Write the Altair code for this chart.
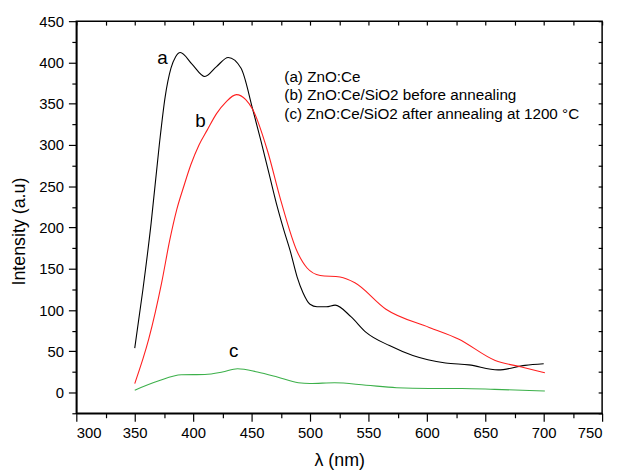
import altair as alt
import pandas as pd

# ---- data ----
wl_a = [350, 357, 364, 371, 376, 381, 385, 389, 399, 410, 420, 430, 441, 451, 458, 465, 472, 478, 483, 489, 494, 500, 506, 514, 521.5, 535, 548, 568, 588, 616, 636, 661, 684, 700]
int_a = [54, 125, 205, 300, 358, 393, 407, 412, 398, 383, 395, 406, 393, 343, 305, 265, 225, 195, 172, 140, 121, 107, 104, 104, 106, 92, 73, 57, 45, 36, 33.6, 27.6, 33, 35]

wl_b = [350, 362, 373, 380, 386, 392, 398, 405, 412, 420, 428, 437, 445, 451, 463.6, 475, 489, 497.5, 508.7, 525.7, 538.4, 565, 602, 627, 658.5, 681, 701]
int_b = [11, 65, 133, 185, 222, 250, 276, 300, 318, 338, 352, 361, 355, 343, 293, 233, 171, 151, 142, 140, 133, 101, 79, 65, 39, 31, 24]

wl_c = [350, 370, 390, 410, 425, 438, 455, 472, 490, 500, 521, 548, 574, 602, 630, 658, 701]
int_c = [3, 14, 21.6, 22, 25, 29, 25, 19, 12, 11, 12, 9, 6, 5, 5, 4, 2]

series_names = ["a", "b", "c"]
series_colors = ["#000000", "#ff1f1f", "#3cb04a"]

curve_labels = ["a", "b", "c"]
curve_label_x = [373.7, 406.2, 434.8]
curve_label_y = [405, 329, 50]

legend_lines = ["(a) ZnO:Ce", "(b) ZnO:Ce/SiO2 before annealing", "(c) ZnO:Ce/SiO2 after annealing at 1200 °C"]
legend_x = [478, 478, 478]
legend_y = [382, 360, 337]

x_major = list(range(300, 751, 50))
x_minor = list(range(325, 751, 50))
x_all = list(range(300, 751, 25))
y_major = list(range(0, 451, 50))
y_minor = list(range(-25, 451, 50))
y_all = list(range(-25, 451, 25))

# ---- tables ----
rows = []
for name, xs_, ys_ in zip(series_names, [wl_a, wl_b, wl_c], [int_a, int_b, int_c]):
    for i, (xv, yv) in enumerate(zip(xs_, ys_)):
        rows.append({"series": name, "wl": xv, "val": yv, "order": i})
df = pd.DataFrame(rows)
df_lab = pd.DataFrame({"t": curve_labels, "x": curve_label_x, "y": curve_label_y})
df_leg = pd.DataFrame({"t": legend_lines, "x": legend_x, "y": legend_y})

FONT = "Liberation Sans"
xs = alt.Scale(domain=[300, 750], nice=False, zero=False)
ys = alt.Scale(domain=[-25, 450], nice=False, zero=False)
cs = alt.Scale(domain=series_names, range=series_colors)

lines = alt.Chart(df).mark_line(interpolate="monotone", strokeWidth=1.1).encode(
    x=alt.X("wl:Q", scale=xs, axis=alt.Axis(
        orient="bottom", values=x_major, tickSize=8, tickWidth=1.2, domainWidth=1.6,
        labelFontSize=15, labelPadding=4, title="λ  (nm)", titleFontSize=18,
        titlePadding=12, format="d")),
    y=alt.Y("val:Q", scale=ys, axis=alt.Axis(
        orient="left", values=y_major, tickSize=8, tickWidth=1.2, domainWidth=1.6,
        labelFontSize=15, labelPadding=5, title="Intensity (a.u)", titleFontSize=18,
        titleX=-57, titleY=212, titleBaseline="middle", titleAngle=-90, format="d")),
    color=alt.Color("series:N", scale=cs, legend=None),
    order="order:Q",
)

minor = alt.Chart(df).mark_point(opacity=0).encode(
    x=alt.X("wl:Q", scale=xs, axis=alt.Axis(
        orient="bottom", values=x_minor, tickSize=4.5, tickWidth=1.2, domain=False,
        labels=False, title=None)),
    y=alt.Y("val:Q", scale=ys, axis=alt.Axis(
        orient="left", values=y_minor, tickSize=4.5, tickWidth=1.2, domain=False,
        labels=False, title=None)),
)

inner = alt.Chart(df).mark_point(opacity=0).encode(
    x=alt.X("wl:Q", scale=xs, axis=alt.Axis(
        orient="top", values=x_all, tickSize=4, tickWidth=1.2, domain=False,
        labels=False, title=None, offset=-4)),
    y=alt.Y("val:Q", scale=ys, axis=alt.Axis(
        orient="right", values=y_all, tickSize=4, tickWidth=1.2, domain=False,
        labels=False, title=None, offset=-4)),
)

labels = alt.Chart(df_lab).mark_text(font=FONT, fontSize=19, color="black",
                                      align="center", baseline="middle").encode(
    x=alt.X("x:Q", scale=xs, axis=None),
    y=alt.Y("y:Q", scale=ys, axis=None),
    text="t:N",
)

legend = alt.Chart(df_leg).mark_text(font=FONT, fontSize=15.4, color="black",
                                      align="left", baseline="middle").encode(
    x=alt.X("x:Q", scale=xs, axis=None),
    y=alt.Y("y:Q", scale=ys, axis=None),
    text="t:N",
)

chart = alt.layer(lines, minor, inner, labels, legend).resolve_axis(
    x="independent", y="independent"
).properties(
    width=531, height=396,
    autosize=alt.AutoSizeParams(type="none"),
    padding={"left": 69, "top": 11, "right": 12, "bottom": 56},
).configure_axis(
    grid=False, labelFont=FONT, titleFont=FONT, labelColor="black", titleColor="black",
    tickColor="black", domainColor="black", titleFontWeight="normal",
).configure_view(stroke="black", strokeWidth=1.5)

chart.save("out.html", embed_options={"renderer": "svg", "actions": False})
